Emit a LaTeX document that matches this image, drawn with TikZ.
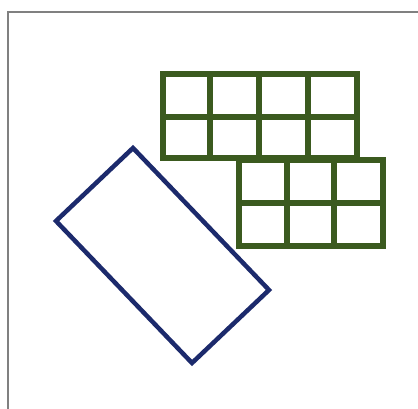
\documentclass[tikz,border=0pt]{standalone}
\definecolor{gridgreen}{HTML}{3B5A1F}
\definecolor{navyblue}{HTML}{1C2A6C}
\begin{document}
\begin{tikzpicture}[x=1pt,y=-1pt,
  gridline/.style={draw=gridgreen,line width=6pt,line cap=rect},
  boxline/.style={draw=navyblue,line width=4.5pt,line join=miter}]
\useasboundingbox (0,0) rectangle (418,409);
\clip (0,0) rectangle (418,409);
\fill[white] (0,0) rectangle (418,409);
\draw[gray,line width=1.3pt] (8,430) -- (8,12) -- (430,12);
% grid 1
\draw[gridline] (163,74) rectangle (357,158);
\foreach \x in {210,259,308} \draw[gridline] (\x,74) -- (\x,158);
\draw[gridline] (163,117) -- (357,117);
% grid 2
\draw[gridline] (239,160) rectangle (383,246);
\foreach \x in {287,334} \draw[gridline] (\x,160) -- (\x,246);
\draw[gridline] (239,203) -- (383,203);
% blue rectangle
\coordinate (t) at (133,148);
\coordinate (l) at (56,221);
\coordinate (b) at (192,363);
\coordinate (r) at (269,290);
\draw[boxline] (t) -- (l) -- (b) -- (r) -- cycle;
\end{tikzpicture}
\end{document}
